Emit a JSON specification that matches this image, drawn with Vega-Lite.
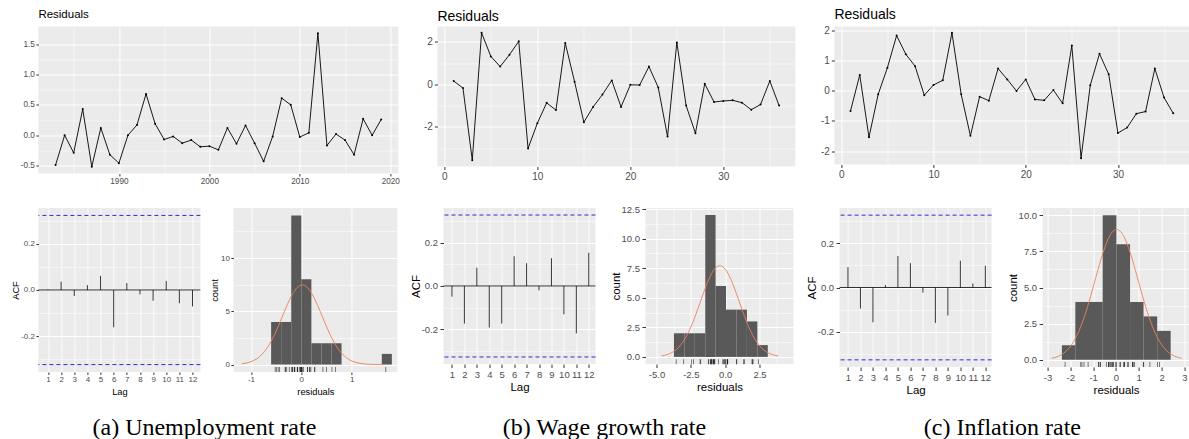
{
"$schema":"https://vega.github.io/schema/vega-lite/v6.json",
"padding":{"left":10.4,"top":7.5,"right":0,"bottom":2},
"autosize":{"type":"pad"},
"spacing":18.7,
"datasets":{
"res_a":[{"t":1983,"r":-0.49},{"t":1984,"r":0.0},{"t":1985,"r":-0.29},{"t":1986,"r":0.43},{"t":1987,"r":-0.52},{"t":1988,"r":0.12},{"t":1989,"r":-0.32},{"t":1990,"r":-0.46},{"t":1991,"r":0.0},{"t":1992,"r":0.17},{"t":1993,"r":0.68},{"t":1994,"r":0.19},{"t":1995,"r":-0.07},{"t":1996,"r":-0.02},{"t":1997,"r":-0.13},{"t":1998,"r":-0.08},{"t":1999,"r":-0.19},{"t":2000,"r":-0.18},{"t":2001,"r":-0.24},{"t":2002,"r":0.12},{"t":2003,"r":-0.14},{"t":2004,"r":0.16},{"t":2005,"r":-0.13},{"t":2006,"r":-0.43},{"t":2007,"r":-0.02},{"t":2008,"r":0.61},{"t":2009,"r":0.5},{"t":2010,"r":-0.03},{"t":2011,"r":0.04},{"t":2012,"r":1.68},{"t":2013,"r":-0.17},{"t":2014,"r":0.02},{"t":2015,"r":-0.08},{"t":2016,"r":-0.32},{"t":2017,"r":0.27},{"t":2018,"r":0.0},{"t":2019,"r":0.26}],
"res_b":[{"t":1,"r":0.16},{"t":2,"r":-0.17},{"t":3,"r":-3.57},{"t":4,"r":2.43},{"t":5,"r":1.32},{"t":6,"r":0.84},{"t":7,"r":1.4},{"t":8,"r":2.03},{"t":9,"r":-3.02},{"t":10,"r":-1.83},{"t":11,"r":-0.87},{"t":12,"r":-1.21},{"t":13,"r":1.95},{"t":14,"r":0.13},{"t":15,"r":-1.78},{"t":16,"r":-1.06},{"t":17,"r":-0.48},{"t":18,"r":0.19},{"t":19,"r":-1.06},{"t":20,"r":-0.02},{"t":21,"r":-0.03},{"t":22,"r":0.84},{"t":23,"r":-0.14},{"t":24,"r":-2.46},{"t":25,"r":1.98},{"t":26,"r":-1.0},{"t":27,"r":-2.3},{"t":28,"r":0.03},{"t":29,"r":-0.83},{"t":30,"r":-0.78},{"t":31,"r":-0.75},{"t":32,"r":-0.86},{"t":33,"r":-1.19},{"t":34,"r":-0.95},{"t":35,"r":0.16},{"t":36,"r":-1.0}],
"res_c":[{"t":1,"r":-0.67},{"t":2,"r":0.52},{"t":3,"r":-1.54},{"t":4,"r":-0.12},{"t":5,"r":0.76},{"t":6,"r":1.82},{"t":7,"r":1.2},{"t":8,"r":0.81},{"t":9,"r":-0.15},{"t":10,"r":0.19},{"t":11,"r":0.34},{"t":12,"r":1.91},{"t":13,"r":-0.12},{"t":14,"r":-1.49},{"t":15,"r":-0.2},{"t":16,"r":-0.33},{"t":17,"r":0.73},{"t":18,"r":0.37},{"t":19,"r":-0.01},{"t":20,"r":0.37},{"t":21,"r":-0.29},{"t":22,"r":-0.32},{"t":23,"r":0.02},{"t":24,"r":-0.42},{"t":25,"r":1.49},{"t":26,"r":-2.23},{"t":27,"r":0.18},{"t":28,"r":1.22},{"t":29,"r":0.54},{"t":30,"r":-1.4},{"t":31,"r":-1.22},{"t":32,"r":-0.76},{"t":33,"r":-0.69},{"t":34,"r":0.73},{"t":35,"r":-0.23},{"t":36,"r":-0.75}],
"acf_a":[{"lag":1,"acf":0.003},{"lag":2,"acf":0.036},{"lag":3,"acf":-0.026},{"lag":4,"acf":0.021},{"lag":5,"acf":0.061},{"lag":6,"acf":-0.161},{"lag":7,"acf":0.03},{"lag":8,"acf":-0.019},{"lag":9,"acf":-0.046},{"lag":10,"acf":0.039},{"lag":11,"acf":-0.057},{"lag":12,"acf":-0.071}],
"acf_b":[{"lag":1,"acf":-0.049},{"lag":2,"acf":-0.173},{"lag":3,"acf":0.084},{"lag":4,"acf":-0.191},{"lag":5,"acf":-0.173},{"lag":6,"acf":0.137},{"lag":7,"acf":0.105},{"lag":8,"acf":-0.02},{"lag":9,"acf":0.128},{"lag":10,"acf":-0.13},{"lag":11,"acf":-0.218},{"lag":12,"acf":0.153}],
"acf_c":[{"lag":1,"acf":0.092},{"lag":2,"acf":-0.095},{"lag":3,"acf":-0.157},{"lag":4,"acf":0.011},{"lag":5,"acf":0.142},{"lag":6,"acf":0.11},{"lag":7,"acf":-0.023},{"lag":8,"acf":-0.16},{"lag":9,"acf":-0.127},{"lag":10,"acf":0.121},{"lag":11,"acf":0.018},{"lag":12,"acf":0.098}],
"ci_a":[{"v":0.322},{"v":-0.322}],
"ci_bc":[{"v":0.3267},{"v":-0.3267}],
"hist_a":[{"x0":-0.6,"x1":-0.4,"n":4},{"x0":-0.4,"x1":-0.2,"n":4},{"x0":-0.2,"x1":0,"n":14},{"x0":0,"x1":0.2,"n":8},{"x0":0.2,"x1":0.4,"n":2},{"x0":0.4,"x1":0.6,"n":2},{"x0":0.6,"x1":0.8,"n":2},{"x0":1.6,"x1":1.8,"n":1}],
"hist_b":[{"x0":-3.73,"x1":-2.97,"n":2},{"x0":-2.97,"x1":-2.21,"n":2},{"x0":-2.21,"x1":-1.45,"n":2},{"x0":-1.45,"x1":-0.7,"n":12},{"x0":-0.7,"x1":0.06,"n":6},{"x0":0.06,"x1":0.82,"n":4},{"x0":0.82,"x1":1.58,"n":4},{"x0":1.58,"x1":2.34,"n":3},{"x0":2.34,"x1":3.1,"n":1}],
"hist_c":[{"x0":-2.37,"x1":-1.78,"n":1},{"x0":-1.78,"x1":-1.18,"n":4},{"x0":-1.18,"x1":-0.58,"n":4},{"x0":-0.58,"x1":0.02,"n":10},{"x0":0.02,"x1":0.62,"n":8},{"x0":0.62,"x1":1.21,"n":4},{"x0":1.21,"x1":1.81,"n":3},{"x0":1.81,"x1":2.4,"n":2}],
"dens_a":[{"x":-1.18,"y":0.074},{"x":-1.08,"y":0.155},{"x":-0.98,"y":0.303},{"x":-0.88,"y":0.557},{"x":-0.78,"y":0.961},{"x":-0.68,"y":1.554},{"x":-0.58,"y":2.356},{"x":-0.48,"y":3.353},{"x":-0.38,"y":4.474},{"x":-0.28,"y":5.599},{"x":-0.18,"y":6.571},{"x":-0.08,"y":7.235},{"x":0.02,"y":7.47},{"x":0.12,"y":7.235},{"x":0.22,"y":6.571},{"x":0.32,"y":5.599},{"x":0.42,"y":4.474},{"x":0.52,"y":3.353},{"x":0.62,"y":2.356},{"x":0.72,"y":1.554},{"x":0.82,"y":0.961},{"x":0.92,"y":0.557},{"x":1.02,"y":0.303},{"x":1.12,"y":0.155},{"x":1.22,"y":0.074},{"x":1.32,"y":0.033},{"x":1.42,"y":0.014},{"x":1.52,"y":0.005},{"x":1.68,"y":0.001}],
"dens_b":[{"x":-4.63,"y":0.084},{"x":-4.39,"y":0.138},{"x":-3.99,"y":0.297},{"x":-3.59,"y":0.588},{"x":-3.19,"y":1.075},{"x":-2.79,"y":1.813},{"x":-2.39,"y":2.823},{"x":-1.99,"y":4.055},{"x":-1.59,"y":5.375},{"x":-1.19,"y":6.572},{"x":-0.79,"y":7.416},{"x":-0.39,"y":7.72},{"x":0.01,"y":7.416},{"x":0.41,"y":6.572},{"x":0.81,"y":5.375},{"x":1.21,"y":4.055},{"x":1.61,"y":2.823},{"x":2.01,"y":1.813},{"x":2.41,"y":1.075},{"x":2.81,"y":0.588},{"x":3.21,"y":0.297},{"x":3.61,"y":0.138},{"x":3.85,"y":0.084}],
"dens_c":[{"x":-2.82,"y":0.1},{"x":-2.67,"y":0.159},{"x":-2.37,"y":0.371},{"x":-2.07,"y":0.784},{"x":-1.77,"y":1.498},{"x":-1.47,"y":2.593},{"x":-1.17,"y":4.062},{"x":-0.87,"y":5.758},{"x":-0.57,"y":7.389},{"x":-0.27,"y":8.582},{"x":0.03,"y":9.02},{"x":0.33,"y":8.582},{"x":0.63,"y":7.389},{"x":0.93,"y":5.758},{"x":1.23,"y":4.062},{"x":1.53,"y":2.593},{"x":1.83,"y":1.498},{"x":2.13,"y":0.784},{"x":2.43,"y":0.371},{"x":2.73,"y":0.159},{"x":2.88,"y":0.1}]
},
"vconcat":[
{"spacing":18.5,"vconcat":[
 {"bounds":"flush","spacing":39,"hconcat":[
  {"width":360,"height":147,"data":{"name":"res_a"},
   "title":{"text":"Residuals","fontSize":11.5,"offset":6,"frame":"group","anchor":"start"},
   "encoding":{
    "x":{"field":"t","type":"quantitative","scale":{"domain":[1981.1,2020.9],"nice":false,"zero":false},
     "axis":{"title":null,"tickCount":100,"values":[1985,1990,1995,2000,2005,2010,2015,2020],"format":"d","labelExpr":"datum.value % 10 == 0 ? datum.label : ''","gridWidth":{"condition":{"test":"datum.value % 10 == 0","value":1},"value":0.5},"tickOpacity":{"condition":{"test":"datum.value % 10 == 0","value":1},"value":0},"labelFontSize":8.2,"tickSize":2.5,"labelPadding":1.5,"labelOverlap":false}},
    "y":{"field":"r","type":"quantitative","scale":{"domain":[-0.63,1.79],"nice":false,"zero":false},
     "axis":{"title":" ","titleFontSize":9.3,"titlePadding":0.15,"tickCount":100,"values":[-0.5,-0.25,0,0.25,0.5,0.75,1,1.25,1.5],"format":".1f","labelExpr":"abs(datum.value*2-round(datum.value*2))<0.001 ? datum.label : ''","gridWidth":{"condition":{"test":"abs(datum.value*2-round(datum.value*2))<0.001","value":1},"value":0.5},"tickOpacity":{"condition":{"test":"abs(datum.value*2-round(datum.value*2))<0.001","value":1},"value":0},"labelFontSize":8.2,"tickSize":2.5,"labelPadding":1.5,"labelOverlap":false}}},
   "layer":[{"mark":{"type":"line","color":"black","strokeWidth":0.9}},{"mark":{"type":"point","filled":true,"size":4,"color":"black","opacity":1}}]},
  {"width":358,"height":140,"data":{"name":"res_b"},
   "title":{"text":"Residuals","fontSize":14,"offset":3,"frame":"group","anchor":"start"},
   "encoding":{
    "x":{"field":"t","type":"quantitative","scale":{"domain":[-0.75,37.75],"nice":false,"zero":false},
     "axis":{"title":null,"tickCount":100,"values":[0,5,10,15,20,25,30,35],"format":"d","labelExpr":"datum.value % 10 == 0 ? datum.label : ''","gridWidth":{"condition":{"test":"datum.value % 10 == 0","value":1},"value":0.5},"tickOpacity":{"condition":{"test":"datum.value % 10 == 0","value":1},"value":0},"labelFontSize":10,"tickSize":3,"labelPadding":2,"labelOverlap":false}},
    "y":{"field":"r","type":"quantitative","scale":{"domain":[-3.87,2.73],"nice":false,"zero":false},
     "axis":{"title":null,"tickCount":100,"values":[-3,-2,-1,0,1,2],"format":"d","labelExpr":"datum.value % 2 == 0 ? datum.label : ''","gridWidth":{"condition":{"test":"datum.value % 2 == 0","value":1},"value":0.5},"tickOpacity":{"condition":{"test":"datum.value % 2 == 0","value":1},"value":0},"labelFontSize":10,"tickSize":3,"labelPadding":2,"labelOverlap":false}}},
   "layer":[{"mark":{"type":"line","color":"black","strokeWidth":0.9}},{"mark":{"type":"point","filled":true,"size":4,"color":"black","opacity":1}}]},
  {"width":355,"height":138,"data":{"name":"res_c"},
   "title":{"text":"Residuals","fontSize":14,"offset":3,"frame":"group","anchor":"start"},
   "encoding":{
    "x":{"field":"t","type":"quantitative","scale":{"domain":[-0.75,37.75],"nice":false,"zero":false},
     "axis":{"title":null,"tickCount":100,"values":[0,5,10,15,20,25,30,35],"format":"d","labelExpr":"datum.value % 10 == 0 ? datum.label : ''","gridWidth":{"condition":{"test":"datum.value % 10 == 0","value":1},"value":0.5},"tickOpacity":{"condition":{"test":"datum.value % 10 == 0","value":1},"value":0},"labelFontSize":10,"tickSize":3,"labelPadding":2,"labelOverlap":false}},
    "y":{"field":"r","type":"quantitative","scale":{"domain":[-2.44,2.12],"nice":false,"zero":false},
     "axis":{"title":null,"tickCount":100,"values":[-2,-1.5,-1,-0.5,0,0.5,1,1.5,2],"format":"d","labelExpr":"datum.value % 1 == 0 ? datum.label : ''","gridWidth":{"condition":{"test":"datum.value % 1 == 0","value":1},"value":0.5},"tickOpacity":{"condition":{"test":"datum.value % 1 == 0","value":1},"value":0},"labelFontSize":10,"tickSize":3,"labelPadding":2,"labelOverlap":false}}},
   "layer":[{"mark":{"type":"line","color":"black","strokeWidth":0.9}},{"mark":{"type":"point","filled":true,"size":4,"color":"black","opacity":1}}]}
 ]},
 {"spacing":12.1,"hconcat":[
  {"bounds":"flush","spacing":33,"hconcat":[
   {"width":162,"height":164,
    "encoding":{
     "x":{"field":"lag","type":"quantitative","title":"Lag","scale":{"domain":[0.27,12.6],"nice":false,"zero":false},
      "axis":{"tickCount":100,"values":[1,2,3,4,5,6,7,8,9,10,11,12],"format":"d","gridWidth":0.8,"labelFontSize":8,"titleFontSize":9.3,"tickSize":2.5,"labelPadding":1.5,"titlePadding":3.5,"labelOverlap":false}},
     "y":{"field":"acf","type":"quantitative","title":"ACF","scale":{"domain":[-0.354,0.354],"nice":false,"zero":false},
      "axis":{"tickCount":100,"values":[-0.3,-0.2,-0.1,0,0.1,0.2,0.3],"format":".1f","labelExpr":"abs(datum.value*5-round(datum.value*5))<0.001 ? datum.label : ''","gridWidth":{"condition":{"test":"abs(datum.value*5-round(datum.value*5))<0.001","value":1},"value":0.5},"tickOpacity":{"condition":{"test":"abs(datum.value*5-round(datum.value*5))<0.001","value":1},"value":0},"labelFontSize":8,"titleFontSize":9.3,"tickSize":2.5,"labelPadding":1.5,"titlePadding":0.5,"labelOverlap":false}}},
    "layer":[
     {"data":{"name":"acf_a"},"mark":{"type":"rule","color":"#222222","strokeWidth":0.9},"encoding":{"y2":{"datum":0}}},
     {"data":{"name":"ci_a"},"mark":{"type":"rule","color":"#2B2BD6","strokeWidth":1,"strokeDash":[4,3]},"encoding":{"x":null,"y":{"field":"v","type":"quantitative"}}},
     {"data":{"values":[{"v":0}]},"mark":{"type":"rule","color":"black","strokeWidth":0.8},"encoding":{"x":null,"y":{"field":"v","type":"quantitative"}}}
    ]},
   {"width":164,"height":164,
    "layer":[
     {"data":{"name":"hist_a"},"mark":{"type":"rect","color":"#595959"},
      "encoding":{
       "x":{"field":"x0","type":"quantitative","title":"residuals","scale":{"domain":[-1.35,1.91],"nice":false,"zero":false},
        "axis":{"tickCount":100,"values":[-1,-0.5,0,0.5,1,1.5],"format":"d","labelExpr":"datum.value % 1 == 0 ? datum.label : ''","gridWidth":{"condition":{"test":"datum.value % 1 == 0","value":1},"value":0.5},"tickOpacity":{"condition":{"test":"datum.value % 1 == 0","value":1},"value":0},"labelFontSize":8,"titleFontSize":9.3,"tickSize":2.5,"labelPadding":1.5,"titlePadding":3.5,"labelOverlap":false}},
       "x2":{"field":"x1"},
       "y":{"field":"n","type":"quantitative","title":"count","scale":{"domain":[-0.7,14.7],"nice":false,"zero":false},
        "axis":{"tickCount":100,"values":[0,2.5,5,7.5,10,12.5],"format":"d","labelExpr":"datum.value % 5 == 0 ? datum.label : ''","gridWidth":{"condition":{"test":"datum.value % 5 == 0","value":1},"value":0.5},"tickOpacity":{"condition":{"test":"datum.value % 5 == 0","value":1},"value":0},"labelFontSize":8,"titleFontSize":9.3,"tickSize":2.5,"labelPadding":1.5,"titlePadding":0.5,"labelOverlap":false}},
       "y2":{"datum":0}}},
     {"data":{"name":"dens_a"},"mark":{"type":"line","color":"#E8825F","strokeWidth":0.9,"interpolate":"monotone"},
      "encoding":{"x":{"field":"x","type":"quantitative","title":"residuals","scale":{"domain":[-1.35,1.91],"nice":false,"zero":false}},"y":{"field":"y","type":"quantitative","title":"count","scale":{"domain":[-0.7,14.7],"nice":false,"zero":false}}}},
     {"data":{"name":"res_a"},"mark":{"type":"tick","orient":"vertical","color":"black","thickness":0.7,"size":5},
      "encoding":{"x":{"field":"r","type":"quantitative","title":"residuals","scale":{"domain":[-1.35,1.91],"nice":false,"zero":false}},"y":{"datum":-0.47,"type":"quantitative","title":"count","scale":{"domain":[-0.7,14.7],"nice":false,"zero":false}}}}
    ]}
  ]},
  {"bounds":"flush","spacing":50,"hconcat":[
   {"width":152,"height":156,
    "encoding":{
     "x":{"field":"lag","type":"quantitative","title":"Lag","scale":{"domain":[0.32,12.54],"nice":false,"zero":false},
      "axis":{"tickCount":100,"values":[1,2,3,4,5,6,7,8,9,10,11,12],"format":"d","gridWidth":0.8,"labelFontSize":9.5,"titleFontSize":11.5,"tickSize":3.5,"labelPadding":2.5,"titlePadding":2,"labelOverlap":false}},
     "y":{"field":"acf","type":"quantitative","title":"ACF","scale":{"domain":[-0.359,0.359],"nice":false,"zero":false},
      "axis":{"tickCount":100,"values":[-0.3,-0.2,-0.1,0,0.1,0.2,0.3],"format":".1f","labelExpr":"abs(datum.value*5-round(datum.value*5))<0.001 ? datum.label : ''","gridWidth":{"condition":{"test":"abs(datum.value*5-round(datum.value*5))<0.001","value":1},"value":0.5},"tickOpacity":{"condition":{"test":"abs(datum.value*5-round(datum.value*5))<0.001","value":1},"value":0},"labelFontSize":9.5,"titleFontSize":11.5,"tickSize":3.5,"labelPadding":2.5,"titlePadding":0,"labelOverlap":false}}},
    "layer":[
     {"data":{"name":"acf_b"},"mark":{"type":"rule","color":"#222222","strokeWidth":0.9},"encoding":{"y2":{"datum":0}}},
     {"data":{"name":"ci_bc"},"mark":{"type":"rule","color":"#2B2BD6","strokeWidth":1,"strokeDash":[4,3]},"encoding":{"x":null,"y":{"field":"v","type":"quantitative"}}},
     {"data":{"values":[{"v":0}]},"mark":{"type":"rule","color":"black","strokeWidth":0.8},"encoding":{"x":null,"y":{"field":"v","type":"quantitative"}}}
    ]},
   {"width":148,"height":156,
    "layer":[
     {"data":{"name":"hist_b"},"mark":{"type":"rect","color":"#595959"},
      "encoding":{
       "x":{"field":"x0","type":"quantitative","title":"residuals","scale":{"domain":[-5.8,4.97],"nice":false,"zero":false},
        "axis":{"tickCount":100,"values":[-5,-3.75,-2.5,-1.25,0,1.25,2.5,3.75],"format":".1f","labelExpr":"datum.value % 2.5 == 0 ? datum.label : ''","gridWidth":{"condition":{"test":"datum.value % 2.5 == 0","value":1},"value":0.5},"tickOpacity":{"condition":{"test":"datum.value % 2.5 == 0","value":1},"value":0},"labelFontSize":9.5,"titleFontSize":11.5,"tickSize":3.5,"labelPadding":2.5,"titlePadding":2,"labelOverlap":false}},
       "x2":{"field":"x1"},
       "y":{"field":"n","type":"quantitative","title":"count","scale":{"domain":[-0.6,12.6],"nice":false,"zero":false},
        "axis":{"tickCount":100,"values":[0,1.25,2.5,3.75,5,6.25,7.5,8.75,10,11.25,12.5],"format":".1f","labelExpr":"datum.value % 2.5 == 0 ? datum.label : ''","gridWidth":{"condition":{"test":"datum.value % 2.5 == 0","value":1},"value":0.5},"tickOpacity":{"condition":{"test":"datum.value % 2.5 == 0","value":1},"value":0},"labelFontSize":9.5,"titleFontSize":11.5,"tickSize":3.5,"labelPadding":2.5,"titlePadding":0,"labelOverlap":false}},
       "y2":{"datum":0}}},
     {"data":{"name":"dens_b"},"mark":{"type":"line","color":"#E8825F","strokeWidth":0.9,"interpolate":"monotone"},
      "encoding":{"x":{"field":"x","type":"quantitative","title":"residuals","scale":{"domain":[-5.8,4.97],"nice":false,"zero":false}},"y":{"field":"y","type":"quantitative","title":"count","scale":{"domain":[-0.6,12.6],"nice":false,"zero":false}}}},
     {"data":{"name":"res_b"},"mark":{"type":"tick","orient":"vertical","color":"black","thickness":0.7,"size":5},
      "encoding":{"x":{"field":"r","type":"quantitative","title":"residuals","scale":{"domain":[-5.8,4.97],"nice":false,"zero":false}},"y":{"datum":-0.4,"type":"quantitative","title":"count","scale":{"domain":[-0.6,12.6],"nice":false,"zero":false}}}}
    ]}
  ]},
  {"bounds":"flush","spacing":51,"hconcat":[
   {"width":152,"height":159,
    "encoding":{
     "x":{"field":"lag","type":"quantitative","title":"Lag","scale":{"domain":[0.33,12.5],"nice":false,"zero":false},
      "axis":{"tickCount":100,"values":[1,2,3,4,5,6,7,8,9,10,11,12],"format":"d","gridWidth":0.8,"labelFontSize":9.5,"titleFontSize":11.5,"tickSize":3.5,"labelPadding":2.5,"titlePadding":2,"labelOverlap":false}},
     "y":{"field":"acf","type":"quantitative","title":"ACF","scale":{"domain":[-0.359,0.359],"nice":false,"zero":false},
      "axis":{"tickCount":100,"values":[-0.3,-0.2,-0.1,0,0.1,0.2,0.3],"format":".1f","labelExpr":"abs(datum.value*5-round(datum.value*5))<0.001 ? datum.label : ''","gridWidth":{"condition":{"test":"abs(datum.value*5-round(datum.value*5))<0.001","value":1},"value":0.5},"tickOpacity":{"condition":{"test":"abs(datum.value*5-round(datum.value*5))<0.001","value":1},"value":0},"labelFontSize":9.5,"titleFontSize":11.5,"tickSize":3.5,"labelPadding":2.5,"titlePadding":0,"labelOverlap":false}}},
    "layer":[
     {"data":{"name":"acf_c"},"mark":{"type":"rule","color":"#222222","strokeWidth":0.9},"encoding":{"y2":{"datum":0}}},
     {"data":{"name":"ci_bc"},"mark":{"type":"rule","color":"#2B2BD6","strokeWidth":1,"strokeDash":[4,3]},"encoding":{"x":null,"y":{"field":"v","type":"quantitative"}}},
     {"data":{"values":[{"v":0}]},"mark":{"type":"rule","color":"black","strokeWidth":0.8},"encoding":{"x":null,"y":{"field":"v","type":"quantitative"}}}
    ]},
   {"width":147,"height":159,
    "layer":[
     {"data":{"name":"hist_c"},"mark":{"type":"rect","color":"#595959"},
      "encoding":{
       "x":{"field":"x0","type":"quantitative","title":"residuals","scale":{"domain":[-3.215,3.23],"nice":false,"zero":false},
        "axis":{"tickCount":100,"values":[-3,-2.5,-2,-1.5,-1,-0.5,0,0.5,1,1.5,2,2.5,3],"format":"d","labelExpr":"datum.value % 1 == 0 ? datum.label : ''","gridWidth":{"condition":{"test":"datum.value % 1 == 0","value":1},"value":0.5},"tickOpacity":{"condition":{"test":"datum.value % 1 == 0","value":1},"value":0},"labelFontSize":9.5,"titleFontSize":11.5,"tickSize":3.5,"labelPadding":2.5,"titlePadding":2,"labelOverlap":false}},
       "x2":{"field":"x1"},
       "y":{"field":"n","type":"quantitative","title":"count","scale":{"domain":[-0.5,10.5],"nice":false,"zero":false},
        "axis":{"tickCount":100,"values":[0,1.25,2.5,3.75,5,6.25,7.5,8.75,10],"format":".1f","labelExpr":"datum.value % 2.5 == 0 ? datum.label : ''","gridWidth":{"condition":{"test":"datum.value % 2.5 == 0","value":1},"value":0.5},"tickOpacity":{"condition":{"test":"datum.value % 2.5 == 0","value":1},"value":0},"labelFontSize":9.5,"titleFontSize":11.5,"tickSize":3.5,"labelPadding":2.5,"titlePadding":0,"labelOverlap":false}},
       "y2":{"datum":0}}},
     {"data":{"name":"dens_c"},"mark":{"type":"line","color":"#E8825F","strokeWidth":0.9,"interpolate":"monotone"},
      "encoding":{"x":{"field":"x","type":"quantitative","title":"residuals","scale":{"domain":[-3.215,3.23],"nice":false,"zero":false}},"y":{"field":"y","type":"quantitative","title":"count","scale":{"domain":[-0.5,10.5],"nice":false,"zero":false}}}},
     {"data":{"name":"res_c"},"mark":{"type":"tick","orient":"vertical","color":"black","thickness":0.7,"size":5},
      "encoding":{"x":{"field":"r","type":"quantitative","title":"residuals","scale":{"domain":[-3.215,3.23],"nice":false,"zero":false}},"y":{"datum":-0.334,"type":"quantitative","title":"count","scale":{"domain":[-0.5,10.5],"nice":false,"zero":false}}}}
    ]}
  ]}
 ]}
]},
{"bounds":"flush","spacing":0,"hconcat":[
 {"width":332,"height":2,"view":{"fill":"transparent","stroke":null},"data":{"values":[{"c":"(a) Unemployment rate"}]},"mark":{"type":"text","font":"Liberation Serif","fontSize":24,"color":"black","baseline":"alphabetic","align":"center"},"encoding":{"text":{"field":"c"}}},
 {"width":468,"height":2,"view":{"fill":"transparent","stroke":null},"data":{"values":[{"c":"(b) Wage growth rate"}]},"mark":{"type":"text","font":"Liberation Serif","fontSize":24,"color":"black","baseline":"alphabetic","align":"center"},"encoding":{"text":{"field":"c"}}},
 {"width":328,"height":2,"view":{"fill":"transparent","stroke":null},"data":{"values":[{"c":"(c) Inflation rate"}]},"mark":{"type":"text","font":"Liberation Serif","fontSize":24,"color":"black","baseline":"alphabetic","align":"center"},"encoding":{"text":{"field":"c"}}}
]}
],
"config":{
 "font":"Liberation Sans",
 "locale":{"number":{"decimal":".","thousands":",","grouping":[3],"currency":["$",""],"minus":"-"}},
 "view":{"fill":"#EBEBEB","stroke":null},
 "axis":{"domain":false,"gridColor":"#FFFFFF","tickColor":"#333333","labelColor":"#4D4D4D","titleColor":"#000000","labelFont":"Liberation Sans","titleFont":"Liberation Sans","titleFontWeight":"normal","labelOverlap":false,"labelFlush":false},
 "title":{"font":"Liberation Sans","fontWeight":"normal","color":"#000000"}
}
}
